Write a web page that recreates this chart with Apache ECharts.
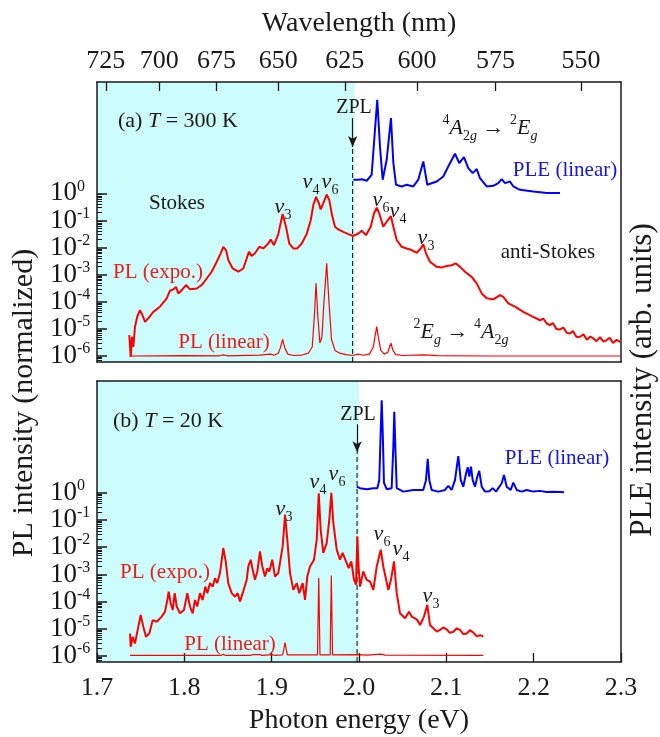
<!DOCTYPE html>
<html><head><meta charset="utf-8">
<script src="https://cdn.jsdelivr.net/npm/echarts@6/dist/echarts.min.js"></script>
<style>html,body{margin:0;padding:0;background:#fff}#c{width:660px;height:737px}</style>
</head><body><div id="c"></div>
<script>
const FONT = '"Liberation Serif","Times New Roman",serif';

// ---- axis ticks / labels ----
const wavelengthTicks = [725, 700, 675, 650, 625, 600, 575, 550];   // nm (top axis)
const energyTicks = [1.7, 1.8, 1.9, 2.0, 2.1, 2.2, 2.3];             // eV (bottom axis)
const decadeTicks = [-6, -5, -4, -3, -2, -1, 0];                     // log10 of PL intensity
const HC = 1239.84;                                                  // eV*nm

// ---- zero-phonon line positions (eV) ----
const zplA = 1.9927, zplB = 1.9978;
const stokesEdgeA = 1.995, stokesEdgeB = 2.000;

// ---- (a) T = 300 K : PL (expo.)  [energy eV, log10 normalized intensity] ----
const plExpoA = [[1.7370,-5.23],[1.7386,-6.03],[1.7401,-5.29],[1.7416,-5.66],[1.7435,-4.92],[1.7461,-4.55],[1.7492,-4.31],[1.7512,-4.43],[1.7550,-4.74],[1.7587,-4.61],[1.7645,-4.37],[1.7721,-4.18],[1.7798,-3.87],[1.7836,-3.59],[1.7874,-3.54],[1.7905,-3.45],[1.7931,-3.69],[1.7970,-3.57],[1.8019,-3.38],[1.8065,-3.54],[1.8142,-3.51],[1.8199,-3.38],[1.8256,-3.14],[1.8313,-2.89],[1.8371,-2.52],[1.8416,-2.21],[1.8446,-1.97],[1.8477,-2.09],[1.8503,-2.46],[1.8554,-2.77],[1.8618,-2.89],[1.8675,-2.77],[1.8714,-2.40],[1.8740,-2.15],[1.8771,-2.31],[1.8809,-2.21],[1.8858,-1.97],[1.8904,-2.03],[1.8961,-1.85],[1.8989,-1.70],[1.9027,-1.91],[1.9076,-1.50],[1.9126,-0.76],[1.9164,-1.23],[1.9202,-1.85],[1.9248,-2.03],[1.9293,-2.03],[1.9344,-1.85],[1.9401,-1.50],[1.9447,-0.99],[1.9477,-0.43],[1.9508,-0.13],[1.9539,-0.35],[1.9561,-0.59],[1.9591,-0.37],[1.9630,-0.04],[1.9660,-0.25],[1.9691,-0.80],[1.9725,-1.23],[1.9763,-1.33],[1.9820,-1.42],[1.9878,-1.50],[1.9935,-1.57],[1.9992,-1.48],[2.0031,-1.38],[2.0080,-1.54],[2.0134,-1.23],[2.0172,-0.74],[2.0203,-0.53],[2.0232,-0.74],[2.0278,-1.23],[2.0329,-0.99],[2.0366,-0.84],[2.0393,-1.23],[2.0432,-1.72],[2.0489,-1.97],[2.0546,-2.03],[2.0603,-2.09],[2.0661,-2.19],[2.0707,-2.03],[2.0736,-1.88],[2.0767,-2.21],[2.0813,-2.52],[2.0890,-2.71],[2.0947,-2.73],[2.1004,-2.68],[2.1061,-2.65],[2.1107,-2.58],[2.1157,-2.71],[2.1214,-2.89],[2.1290,-3.08],[2.1348,-3.32],[2.1405,-3.69],[2.1462,-3.87],[2.1538,-3.91],[2.1615,-3.75],[2.1652,-3.82],[2.1710,-4.06],[2.1786,-4.18],[2.1881,-4.37],[2.1978,-4.53],[2.2073,-4.68],[2.2110,-4.62],[2.2150,-4.80],[2.2187,-4.86],[2.2220,-4.78],[2.2260,-5.00],[2.2302,-5.02],[2.2340,-4.95],[2.2380,-5.15],[2.2416,-5.17],[2.2450,-5.08],[2.2490,-5.30],[2.2531,-5.29],[2.2570,-5.20],[2.2610,-5.40],[2.2650,-5.28],[2.2683,-5.35],[2.2720,-5.45],[2.2760,-5.30],[2.2800,-5.47],[2.2836,-5.41],[2.2870,-5.33],[2.2910,-5.52],[2.2950,-5.40],[2.2989,-5.48]];

// ---- (a) PL (linear) [eV, normalized linear intensity] ----
const plLinA = [[1.7378,0],[1.8000,0.003],[1.8400,0.002],[1.8446,0.012],[1.8490,0.002],[1.8860,0.01],[1.8989,0.02],[1.9027,0.008],[1.9076,0.03],[1.9100,0.09],[1.9126,0.18],[1.9150,0.09],[1.9185,0.02],[1.9250,0.005],[1.9350,0.01],[1.9420,0.03],[1.9465,0.1],[1.9490,0.45],[1.9508,0.784],[1.9527,0.45],[1.9552,0.14],[1.9575,0.2],[1.9600,0.6],[1.9630,1.0],[1.9655,0.6],[1.9685,0.18],[1.9725,0.06],[1.9780,0.03],[1.9850,0.015],[1.9935,0.005],[1.9985,0.02],[2.0050,0.008],[2.0120,0.02],[2.0165,0.1],[2.0185,0.22],[2.0203,0.316],[2.0222,0.2],[2.0250,0.06],[2.0290,0.02],[2.0330,0.04],[2.0350,0.1],[2.0366,0.137],[2.0385,0.07],[2.0420,0.015],[2.0500,0.005],[2.0740,0.012],[2.0900,0.003],[2.1500,0],[2.2989,0]];

// ---- (a) PLE (linear) [eV, arb. units] ----
const pleA = [[1.9935,0.143],[1.9989,0.143],[2.0034,0.148],[2.0088,0.132],[2.0145,0.196],[2.0183,0.678],[2.0209,1.0],[2.0240,0.5],[2.0271,0.143],[2.0317,0.357],[2.0366,0.804],[2.0393,0.325],[2.0424,0.089],[2.0489,0.071],[2.0546,0.089],[2.0622,0.071],[2.0679,0.143],[2.0736,0.339],[2.0782,0.089],[2.0890,0.124],[2.0965,0.178],[2.1022,0.285],[2.1099,0.421],[2.1148,0.322],[2.1202,0.386],[2.1251,0.268],[2.1302,0.214],[2.1348,0.257],[2.1385,0.161],[2.1462,0.071],[2.1538,0.078],[2.1595,0.107],[2.1634,0.15],[2.1672,0.107],[2.1729,0.124],[2.1767,0.071],[2.1843,0.035],[2.1996,0.017],[2.2149,0.0],[2.2301,0.0]];

// ---- (b) T = 20 K : PL (expo.) [eV, log10 intensity] ----
const plExpoB = [[1.7378,-5.17],[1.7386,-5.66],[1.7409,-5.29],[1.7435,-5.54],[1.7473,-4.92],[1.7500,-4.49],[1.7530,-4.92],[1.7561,-5.29],[1.7599,-5.17],[1.7638,-4.68],[1.7684,-4.74],[1.7741,-4.55],[1.7779,-4.37],[1.7805,-3.94],[1.7821,-3.63],[1.7844,-4.06],[1.7867,-4.31],[1.7890,-3.69],[1.7913,-4.18],[1.7950,-4.43],[1.7996,-4.31],[1.8034,-3.69],[1.8065,-4.18],[1.8096,-4.43],[1.8122,-3.94],[1.8148,-4.18],[1.8179,-3.69],[1.8210,-3.94],[1.8240,-3.45],[1.8263,-3.69],[1.8294,-3.32],[1.8325,-3.45],[1.8351,-3.14],[1.8377,-3.32],[1.8408,-2.95],[1.8446,-2.03],[1.8474,-2.52],[1.8503,-3.32],[1.8542,-3.69],[1.8580,-3.82],[1.8611,-3.69],[1.8637,-4.00],[1.8668,-3.69],[1.8714,-3.20],[1.8732,-2.71],[1.8760,-2.46],[1.8783,-2.83],[1.8809,-3.20],[1.8836,-2.89],[1.8866,-2.15],[1.8893,-2.71],[1.8924,-3.08],[1.8950,-2.77],[1.8973,-2.89],[1.9007,-2.46],[1.9038,-3.08],[1.9076,-2.95],[1.9126,-1.97],[1.9153,-0.80],[1.9179,-1.72],[1.9210,-2.95],[1.9248,-3.57],[1.9287,-3.32],[1.9316,-3.69],[1.9355,-3.32],[1.9382,-3.94],[1.9408,-3.08],[1.9439,-2.71],[1.9485,-2.46],[1.9516,-1.72],[1.9539,-0.02],[1.9561,-1.35],[1.9591,-2.21],[1.9630,-1.85],[1.9660,-0.99],[1.9683,0.0],[1.9706,-1.11],[1.9745,-2.09],[1.9782,-2.46],[1.9813,-2.21],[1.9851,-2.52],[1.9882,-2.77],[1.9912,-2.52],[1.9943,-3.20],[1.9966,-3.38],[1.9981,-1.60],[1.9995,-2.71],[2.0012,-3.45],[2.0049,-2.89],[2.0088,-3.20],[2.0126,-3.26],[2.0164,-3.57],[2.0203,-2.71],[2.0249,-2.09],[2.0278,-2.71],[2.0336,-3.57],[2.0366,-3.20],[2.0401,-2.52],[2.0432,-3.69],[2.0470,-4.43],[2.0527,-4.61],[2.0573,-4.37],[2.0603,-4.55],[2.0661,-4.65],[2.0699,-4.86],[2.0744,-4.55],[2.0782,-4.12],[2.0813,-4.86],[2.0851,-4.98],[2.0890,-5.10],[2.0928,-5.04],[2.0966,-4.95],[2.1004,-5.02],[2.1040,-5.15],[2.1080,-5.11],[2.1120,-4.98],[2.1157,-5.04],[2.1195,-5.20],[2.1233,-5.17],[2.1270,-5.05],[2.1309,-5.14],[2.1350,-5.28],[2.1386,-5.23],[2.1423,-5.29]];

// ---- (b) PL (linear) ----
const plLinB = [[1.7378,0],[1.8420,0],[1.8446,0.012],[1.8470,0],[1.8760,0],[1.8783,0.008],[1.8800,0],[1.8866,0.008],[1.8890,0],[1.9007,0.008],[1.9030,0],[1.9125,0.005],[1.9140,0.08],[1.9153,0.16],[1.9166,0.08],[1.9180,0.005],[1.9525,0.005],[1.9532,0.5],[1.9539,0.97],[1.9546,0.5],[1.9553,0.005],[1.9670,0.005],[1.9676,0.5],[1.9683,1.0],[1.9690,0.5],[1.9697,0.005],[1.9981,0.008],[2.0100,0.003],[2.0249,0.015],[2.0300,0.003],[2.1423,0]];

// ---- (b) PLE (linear) ----
const pleB = [[1.9974,0.071],[2.0012,0.054],[2.0088,0.043],[2.0164,0.054],[2.0210,0.054],[2.0232,0.14],[2.0249,0.68],[2.0260,1.0],[2.0271,0.68],[2.0286,0.11],[2.0317,0.043],[2.0374,0.054],[2.0393,0.5],[2.0404,0.875],[2.0416,0.5],[2.0432,0.054],[2.0507,0.017],[2.0622,0.035],[2.0736,0.035],[2.0767,0.14],[2.0787,0.37],[2.0805,0.14],[2.0832,0.035],[2.0908,0.017],[2.0985,0.035],[2.1022,0.078],[2.1061,0.035],[2.1099,0.14],[2.1137,0.40],[2.1165,0.14],[2.1194,0.07],[2.1225,0.21],[2.1245,0.28],[2.1263,0.18],[2.1282,0.285],[2.1302,0.14],[2.1328,0.07],[2.1355,0.18],[2.1377,0.24],[2.1405,0.07],[2.1443,0.017],[2.1492,0.02],[2.1531,0.054],[2.1569,0.017],[2.1634,0.107],[2.1660,0.196],[2.1691,0.07],[2.1737,0.035],[2.1767,0.114],[2.1806,0.035],[2.1863,0.017],[2.1920,0.035],[2.1996,0.017],[2.2073,0.025],[2.2149,0.012],[2.2225,0.015],[2.2302,0.012],[2.2348,0.01]];

// ---- axis ranges ----
const logRange = [-6.22, 4.11];
const pleRangeA = [-1.81, 1.19], pleRangeB = [-1.816, 1.207];
const linRangeA = [-0.065, 2.956], linRangeB = [-0.084, 3.44];
const zplArrowA = [2.78, 1.71], zplArrowB = [2.52, 1.49];

// ---------------------------------------------------------------
const INK = '#1a1a1a', RED = '#ff0000', BLUE = '#0000ff', CYAN = '#ccfcfc';
const wlEnergies = wavelengthTicks.map(w => HC / w);
const minorTicks = [];
for (let n = -7; n <= -1; n++) for (let k = 2; k <= 9; k++) {
  const v = n + Math.log10(k);
  if (v >= logRange[0] && v <= 0) minorTicks.push(v);
}
const lineStyle = { color: INK, width: 1.5 };
const keepAll = { showMinLabel: true, showMaxLabel: true, hideOverlap: false };

function xAxes(g, withTopLabels, withBottomLabels) {
  return [
    { gridIndex: g, type: 'value', position: 'bottom', min: 1.7, max: 2.3, z: 3,
      axisLine: { show: true, onZero: false, lineStyle },
      axisTick: { show: withBottomLabels, inside: true, length: 9, customValues: energyTicks, lineStyle: { color: INK, width: 1.3 } },
      axisLabel: Object.assign({ show: withBottomLabels, customValues: energyTicks, formatter: v => v.toFixed(1), fontSize: 26, fontFamily: FONT, color: INK, margin: 13 }, keepAll),
      splitLine: { show: false } },
    { gridIndex: g, type: 'value', position: 'top', min: 1.7, max: 2.3, z: 3,
      axisLine: { show: true, onZero: false, lineStyle },
      axisTick: { show: withTopLabels, inside: true, length: 9, customValues: wlEnergies, lineStyle: { color: INK, width: 1.3 } },
      axisLabel: Object.assign({ show: withTopLabels, customValues: wlEnergies, formatter: v => String(Math.round(HC / v)), fontSize: 26, fontFamily: FONT, color: INK, margin: 8 }, keepAll),
      splitLine: { show: false } }
  ];
}
function yAxes(g, pleRange, linRange) {
  return [
    // decades: ticks + mantissa "10"
    { gridIndex: g, type: 'value', position: 'left', min: logRange[0], max: logRange[1], z: 3,
      axisLine: { show: true, onZero: false, lineStyle },
      axisTick: { show: true, inside: true, length: 10, customValues: decadeTicks, lineStyle: { color: INK, width: 1.5 } },
      axisLabel: Object.assign({ show: true, customValues: decadeTicks, formatter: () => '10', fontSize: 27, lineHeight: 20,
        fontFamily: FONT, color: INK, margin: 20 }, keepAll),
      splitLine: { show: false } },
    // minor ticks + exponent (superscript)
    { gridIndex: g, type: 'value', position: 'left', min: logRange[0], max: logRange[1], z: 3,
      axisLine: { show: false },
      axisTick: { show: true, inside: true, length: 5, customValues: minorTicks, lineStyle: { color: INK, width: 1 } },
      axisLabel: Object.assign({ show: true, customValues: decadeTicks, formatter: v => String(v), fontSize: 16, lineHeight: 14,
        align: 'left', verticalAlign: 'bottom', fontFamily: FONT, color: INK, margin: 20 }, keepAll),
      splitLine: { show: false } },
    { gridIndex: g, type: 'value', position: 'right', min: pleRange[0], max: pleRange[1], z: 3,
      axisLine: { show: true, onZero: false, lineStyle },
      axisTick: { show: false }, axisLabel: { show: false }, splitLine: { show: false } },
    { gridIndex: g, type: 'value', show: false, min: linRange[0], max: linRange[1], splitLine: { show: false } }
  ];
}
function panelSeries(xi, yBase, zpl, edge, arrow, expo, lin, ple) {
  return [
    { type: 'line', xAxisIndex: xi, yAxisIndex: yBase, z: 1, symbol: 'none', silent: true,
      data: [[zpl, logRange[0]], [zpl, arrow[1]]],
      lineStyle: { color: INK, width: 1.1, type: [5, 3] },
      markArea: { silent: true, z: 0, itemStyle: { color: CYAN, opacity: 1 }, data: [[{ xAxis: 1.7 }, { xAxis: edge }]] },
      markLine: { silent: true, symbol: ['none', 'arrow'], symbolSize: [7, 11], label: { show: false },
        lineStyle: { color: INK, width: 1.2, type: 'solid' },
        data: [[{ coord: [zpl, arrow[0]] }, { coord: [zpl, arrow[1]] }]] } },
    { type: 'line', xAxisIndex: xi, yAxisIndex: yBase, z: 4, symbol: 'none', data: expo,
      lineStyle: { color: RED, width: 2 } },
    { type: 'line', xAxisIndex: xi, yAxisIndex: yBase + 3, z: 4, symbol: 'none', data: lin,
      lineStyle: { color: RED, width: 1.2 } },
    { type: 'line', xAxisIndex: xi, yAxisIndex: yBase + 2, z: 4, symbol: 'none', data: ple,
      lineStyle: { color: BLUE, width: 2 } }
  ];
}

// ---- text annotations ----
const TR = {
  m: { fontSize: 22, fontFamily: FONT, lineHeight: 22, padding: [4, 0, 0, 0], verticalAlign: 'top' },
  i: { fontSize: 22, fontFamily: FONT, fontStyle: 'italic', lineHeight: 22, padding: [4, 0, 0, 0], verticalAlign: 'top' },
  up: { fontSize: 14, fontFamily: FONT, lineHeight: 14, verticalAlign: 'top' },
  dn: { fontSize: 14, fontFamily: FONT, lineHeight: 14, padding: [16, 0, 0, 0], verticalAlign: 'top' },
  dni: { fontSize: 14, fontFamily: FONT, fontStyle: 'italic', lineHeight: 14, padding: [16, 0, 0, 0], verticalAlign: 'top' }
};
function T(x, y, text, opt) {
  opt = opt || {};
  return { type: 'text', x, y, z: 20, rotation: opt.rot || 0, silent: true,
    style: { text, rich: TR, fill: opt.fill || INK, font: (opt.size || 21) + 'px ' + FONT,
      align: opt.align || 'center', verticalAlign: 'middle' } };
}
const nu = s => '{i|ν}{dn|' + s + '}';
const graphics = [
  T(359, 24, 'Wavelength (nm)', { size: 28 }),
  T(359, 721, 'Photon energy (eV)', { size: 28 }),
  T(24, 403, 'PL intensity (normalized)', { size: 30, rot: Math.PI / 2 }),
  T(643, 380, 'PLE intensity (arb. units)', { size: 31, rot: Math.PI / 2 }),
  // panel a
  T(118, 117, '{m|(a) }{i|T}{m| = 300 K}', { align: 'left' }),
  T(354, 108, 'ZPL', { size: 20 }),
  T(177, 203, 'Stokes'),
  T(158, 272, 'PL (expo.)', { fill: '#f01a1a' }),
  T(224, 342, 'PL (linear)', { fill: '#f01a1a' }),
  T(283, 203, nu(3)), T(311, 178, nu(4)), T(330, 178, nu(6)),
  T(381, 196, nu(6)), T(398, 207, nu(4)), T(426, 234, nu(3)),
  T(548, 252, 'anti-Stokes'),
  T(490, 124, '{up|4}{i|A}{dn|2}{dni|g}{m| → }{up|2}{i|E}{dni|g}'),
  T(565, 170, 'PLE (linear)', { fill: '#1414e6' }),
  T(461, 328, '{up|2}{i|E}{dni|g}{m| → }{up|4}{i|A}{dn|2}{dni|g}'),
  // panel b
  T(113, 417, '{m|(b) }{i|T}{m| = 20 K}', { align: 'left' }),
  T(358, 415, 'ZPL', { size: 20 }),
  T(165, 572, 'PL (expo.)', { fill: '#f01a1a' }),
  T(230, 644, 'PL (linear)', { fill: '#f01a1a' }),
  T(284, 505, nu(3)), T(318, 478, nu(4)), T(337, 470, nu(6)),
  T(382, 530, nu(6)), T(401, 545, nu(4)), T(431, 592, nu(3)),
  T(557, 458, 'PLE (linear)', { fill: '#1414e6' })
];

const option = {
  animation: false,
  backgroundColor: '#ffffff',
  grid: [
    { left: 97, top: 82, width: 524, height: 280 },
    { left: 97, top: 381, width: 524, height: 281 }
  ],
  xAxis: [...xAxes(0, true, false), ...xAxes(1, false, true)],
  yAxis: [...yAxes(0, pleRangeA, linRangeA), ...yAxes(1, pleRangeB, linRangeB)],
  series: [
    ...panelSeries(0, 0, zplA, stokesEdgeA, zplArrowA, plExpoA, plLinA, pleA),
    ...panelSeries(2, 4, zplB, stokesEdgeB, zplArrowB, plExpoB, plLinB, pleB)
  ],
  graphic: graphics
};
const chart = echarts.init(document.getElementById('c'), null, { renderer: 'canvas' });
chart.setOption(option);
</script></body></html>
